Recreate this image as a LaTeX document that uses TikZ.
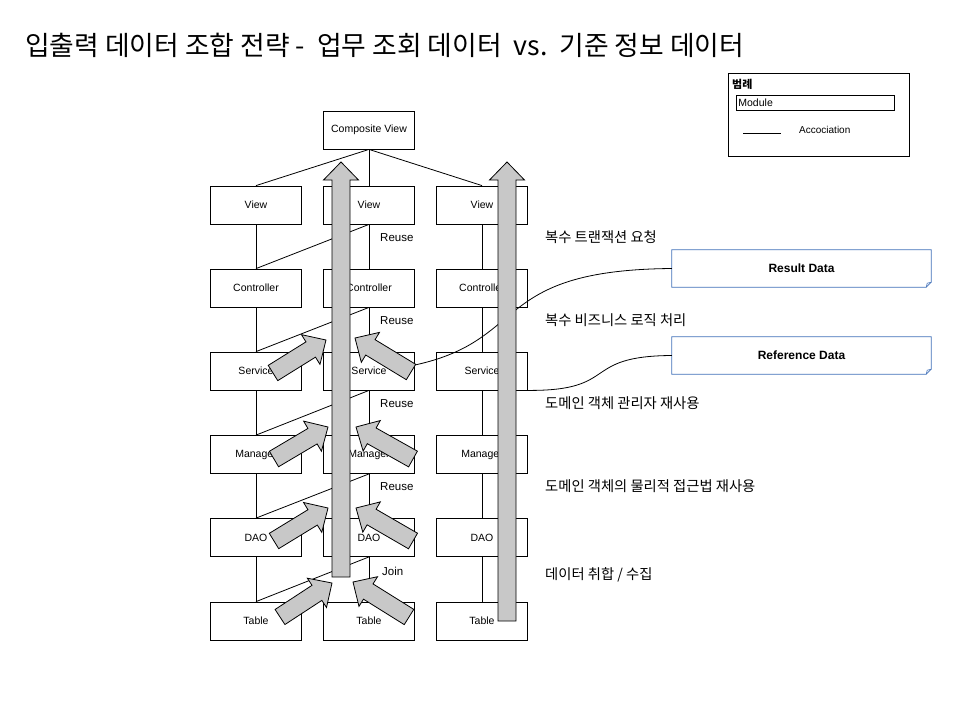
\documentclass[tikz,border=0pt]{standalone}
\usepackage{fontspec}
\setmainfont{Liberation Sans}
\newfontfamily\krfont{Noto Sans CJK KR}
\usetikzlibrary{calc}
\definecolor{arrowgray}{RGB}{200,200,200}
\definecolor{noteblue}{RGB}{65,113,185}
\tikzset{
  module/.style={draw, fill=white, line width=0.8pt, minimum width=91pt, minimum height=38pt, inner sep=0pt, font=\fontsize{10.5}{12}\selectfont},
  fatbody/.style={draw, fill=arrowgray, line width=0.8pt},
  note/.style={minimum width=259pt, minimum height=37pt, font=\fontsize{12}{14}\selectfont\bfseries},
  remark/.style={anchor=west, inner sep=0pt, font=\krfont\fontsize{14.3}{16}\selectfont},
  reuse/.style={anchor=west, inner sep=0pt, font=\fontsize{11.5}{13}\selectfont},
}
% fat grey arrow from tail (#1) to tip (#2)
\newcommand{\fatarrow}[2]{%
  \coordinate (fh) at ($(#2)!18pt!(#1)$);
  \filldraw[fatbody] ($(#1)!9pt!90:(#2)$) -- ($(fh)!9pt!-90:(#1)$) -- ($(fh)!17.5pt!-90:(#1)$) -- (#2)
    -- ($(fh)!17.5pt!90:(#1)$) -- ($(fh)!9pt!90:(#1)$) -- ($(#1)!9pt!-90:(#2)$) -- cycle;}
\begin{document}
\begin{tikzpicture}[x=1pt,y=-1pt]
  \useasboundingbox[fill=white] (0,0) rectangle (960,720);
  \node[anchor=west, inner sep=0pt, font=\krfont\fontsize{26.8}{30}\selectfont] (title) at (25,45)
    {입출력 데이터 조합 전략 -\ \ 업무 조회 데이터\ \ vs.\ \ 기준 정보 데이터};

  % modules
  \draw
    (369,130) node[module] (comp){Composite View}
    (256,205) node[module] (view1){View}
    (369,205) node[module] (view2){View}
    (482,205) node[module] (view3){View}
    (256,288) node[module] (ctrl1){Controller}
    (369,288) node[module] (ctrl2){Controller}
    (482,288) node[module] (ctrl3){Controller}
    (256,371) node[module] (svc1){Service}
    (369,371) node[module] (svc2){Service}
    (482,371) node[module] (svc3){Service}
    (256,454.5) node[module] (mgr1){Manager}
    (369,454.5) node[module] (mgr2){Manager}
    (482,454.5) node[module] (mgr3){Manager}
    (256,537.5) node[module] (dao1){DAO}
    (369,537.5) node[module] (dao2){DAO}
    (482,537.5) node[module] (dao3){DAO}
    (256,621) node[module] (tbl1){Table}
    (369,621) node[module] (tbl2){Table}
    (482,621) node[module] (tbl3){Table};
  \begin{scope}[line width=0.8pt]
    \draw (comp.south) to (view1.north);
    \draw (comp.south) to (view2.north);
    \draw (comp.south) to (view3.north);
    \draw (view1) to (ctrl1);
    \draw (ctrl1) to (svc1);
    \draw (svc1) to (mgr1);
    \draw (mgr1) to (dao1);
    \draw (dao1) to (tbl1);
    \draw (view2) to (ctrl2);
    \draw (ctrl2) to (svc2);
    \draw (svc2) to (mgr2);
    \draw (mgr2) to (dao2);
    \draw (dao2) to (tbl2);
    \draw (view3) to (ctrl3);
    \draw (ctrl3) to (svc3);
    \draw (svc3) to (mgr3);
    \draw (mgr3) to (dao3);
    \draw (dao3) to (tbl3);
    \draw (ctrl1.north) to (view2.south);
    \draw (svc1.north) to (ctrl2.south);
    \draw (mgr1.north) to (svc2.south);
    \draw (dao1.north) to (mgr2.south);
    \draw (tbl1.north) to (dao2.south);
  \end{scope}

  % result / reference data
  \node[note] (res) at (801.5,268.5) {Result Data};
  \node[note] (ref) at (801.5,355.5) {Reference Data};
  \foreach \n in {res,ref}{
    \draw[noteblue, line width=0.8pt] (\n.north west) -- (\n.north east) -- ($(\n.south east)+(0,-5)$)
      -- ($(\n.south east)+(-5,0)$) -- (\n.south west) -- cycle;
    \draw[noteblue, line width=0.6pt] ($(\n.south east)+(-5,0)$) -- ($(\n.south east)+(-4,-4)$) -- ($(\n.south east)+(0,-5)$);
  }
  \draw[line width=0.8pt] ($(svc2.east)+(0,-6)$) .. controls (530,340) and (490,270) .. (res.west);
  \draw[line width=0.8pt] (svc3.south east) .. controls (620,391) and (580,356) .. (ref.west);

  % flow arrows
  \path
    (341,577) coordinate (up2) (341,162) coordinate (up2t)
    (507,621) coordinate (up3) (507,162) coordinate (up3t);
  \fatarrow{up2}{up2t}
  \fatarrow{up3}{up3t}
  \fatarrow{273,373}{326,340}
  \fatarrow{411,372}{355,338}
  \fatarrow{274,459}{328,427}
  \fatarrow{413,459}{356,427}
  \fatarrow{274,541}{328,508}
  \fatarrow{413,541}{356,508}
  \fatarrow{280,617}{332,583}
  \fatarrow{409,617}{353,582}

  % labels
  \node[reuse] (reuse1) at (380,238) {Reuse};
  \node[reuse] (reuse2) at (380,321) {Reuse};
  \node[reuse] (reuse3) at (380,404) {Reuse};
  \node[reuse] (reuse4) at (380,487) {Reuse};
  \node[reuse] (join) at (382,571) {Join};
  \node[remark] (step1) at (545,237) {복수 트랜잭션 요청};
  \node[remark] (step2) at (545,320) {복수 비즈니스 로직 처리};
  \node[remark] (step3) at (545,403) {도메인 객체 관리자 재사용};
  \node[remark] (step4) at (545,486) {도메인 객체의 물리적 접근법 재사용};
  \node[remark] (step5) at (545,575) {데이터 취합 / 수집};

  % legend
  \draw[line width=0.8pt] (728,73) rectangle (909,156);
  \node[anchor=west, inner sep=1pt, font=\krfont\fontsize{11}{13}\selectfont\bfseries] (legend) at (731,84) {범례};
  \node[draw, line width=0.8pt, anchor=north west, inner sep=2pt, minimum height=15pt, text width=154pt,
    font=\fontsize{10.5}{12}\selectfont] (modkey) at (736,95) {Module};
  \coordinate (assoca) at (743,133);
  \coordinate (assocb) at (781,133);
  \draw[line width=0.8pt] (assoca) -- (assocb);
  \node[anchor=west, inner sep=0pt, font=\fontsize{10}{12}\selectfont] (assoc) at (799,130) {Accociation};
\end{tikzpicture}
\end{document}
